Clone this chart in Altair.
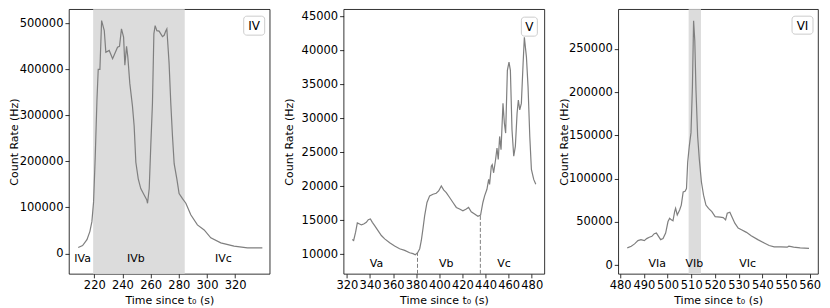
import altair as alt
import pandas as pd

FONT = "DejaVu Sans"
LINE = "#7f7f7f"
SHADE = "#dcdcdc"

# ---------------- Panel IV ----------------
t4 = [208.6, 211.7, 214.8, 216.9, 218.3, 219.5, 220.7, 221.9, 222.8, 224.0,
      225.2, 227.1, 228.2, 230.6, 233.0, 236.5, 237.9, 239.3, 240.8, 241.7,
      242.9, 243.8, 245.2, 247.1, 248.3, 249.5, 251.2, 253.0, 255.4, 257.3,
      257.8, 259.0, 260.1, 261.3, 262.3, 263.2, 264.4, 266.0, 267.2, 268.4,
      269.6, 270.8, 271.5, 273.1, 274.3, 275.5, 276.7, 278.6, 280.2, 282.6,
      285.0, 288.5, 293.2, 298.0, 302.7, 309.8, 319.2, 328.7, 339.3]
r4 = [13000, 17000, 30000, 48000, 69000, 112000, 212000, 334000, 400000, 400000,
      506000, 484000, 437000, 441000, 423000, 448000, 450000, 488000, 470000, 409000,
      450000, 427000, 370000, 320000, 277000, 198000, 162000, 141000, 127000, 116000,
      109000, 141000, 234000, 327000, 477000, 495000, 484000, 483000, 477000, 471000,
      474000, 484000, 488000, 413000, 327000, 255000, 195000, 162000, 130000, 119000,
      109000, 84000, 62000, 51000, 34000, 23000, 16000, 12000, 12000]
span4 = [(219.2, 284.2)]
sec4_names = ["IVa", "IVb", "IVc"]
sec4_t = [211.7, 249.5, 311.7]
sec4_y = -12000
x4_dom = [202.0, 344.5]
y4_dom = [-44400, 530700]
x4_ticks = [220, 240, 260, 280, 300, 320]
y4_ticks = [0, 100000, 200000, 300000, 400000, 500000]

# ---------------- Panel V ----------------
t5 = [324.6, 325.8, 327.5, 329.0, 331.0, 332.5, 334.5, 336.8, 338.5, 340.3,
      342.0, 344.0, 346.9, 349.8, 352.7, 357.0, 361.3, 365.6, 370.0, 374.3,
      377.2, 379.2, 381.2, 383.0, 384.4, 385.8, 387.3, 389.3, 391.6, 394.5,
      397.3, 399.4, 401.7, 403.7, 406.0, 408.9, 411.8, 414.7, 417.5, 420.4,
      423.3, 425.3, 427.6, 430.5, 433.4, 435.7, 437.7, 439.2, 441.2, 442.7,
      443.5, 445.0, 445.8, 447.0, 448.7, 449.9, 451.0, 452.2, 453.4, 455.1,
      456.3, 457.4, 458.9, 460.3, 461.5, 462.9, 464.4, 465.8, 467.3, 468.4,
      469.6, 471.0, 472.5, 473.6, 475.4, 476.8, 478.3, 479.7, 481.7, 483.5]
r5 = [12190, 12040, 13260, 14620, 14470, 14330, 14470, 14710, 15100, 15200,
      14710, 14230, 13500, 12770, 12280, 11700, 11220, 10830, 10580, 10240,
      10100, 9950, 10240, 10830, 12040, 13740, 15690, 17630, 18600, 18850,
      18990, 19330, 20060, 19480, 19090, 18360, 17630, 16900, 16660, 16420,
      16660, 16900, 16270, 15930, 15590, 15780, 17630, 18600, 19570, 21030,
      20300, 22980, 23200, 22000, 23950, 25650, 23950, 27350, 25400, 32210,
      29290, 27840, 37070, 38290, 37070, 28320, 24430, 25890, 30750, 32700,
      31240, 32210, 38040, 41930, 39010, 34640, 27350, 22490, 21030, 20300]
cuts5_t = [381.1, 435.5]
cuts5_r = [10240, 15780]
sec5_names = ["Va", "Vb", "Vc"]
sec5_t = [345.6, 406.0, 456.0]
sec5_y = 8600
x5_dom = [317.1, 490.9]
y5_dom = [7130, 46070]
x5_ticks = [320, 340, 360, 380, 400, 420, 440, 460, 480]
y5_ticks = [10000, 15000, 20000, 25000, 30000, 35000, 40000, 45000]

# ---------------- Panel VI ----------------
t6 = [483.0, 484.7, 486.1, 487.5, 488.8, 490.2, 491.2, 492.3, 493.4, 494.4,
      495.3, 496.2, 497.1, 498.1, 499.2, 500.2, 500.9, 501.6, 502.3, 503.0,
      503.4, 504.1, 505.1, 505.8, 506.6, 507.4, 508.0, 508.5, 509.2, 509.9,
      510.5, 511.0, 511.5, 512.0, 512.7, 513.4, 514.3, 515.2, 516.2, 517.3,
      518.7, 520.1, 522.2, 523.5, 524.5, 525.2, 526.3, 527.3, 528.4, 529.8,
      531.2, 533.3, 535.3, 538.1, 540.8, 542.9, 545.0, 547.8, 550.5, 551.2,
      553.2, 556.0, 559.7]
r6 = [20100, 22000, 24700, 28500, 29600, 28500, 30800, 32300, 33400, 36500,
      37200, 33400, 29600, 30800, 37200, 50500, 54300, 52400, 51300, 61900,
      65700, 58100, 63800, 69500, 84700, 85500, 88500, 118900, 137900, 153100,
      206300, 282300, 259500, 202500, 149300, 122700, 96100, 80900, 69500, 65700,
      61900, 56200, 55500, 55100, 52400, 60000, 61200, 55100, 48600, 42900,
      41000, 38000, 34200, 29600, 25800, 22800, 21300, 21300, 20900, 22000,
      20900, 20100, 19400]
span6 = [(508.9, 514.1)]
sec6_names = ["VIa", "VIb", "VIc"]
sec6_t = [495.7, 511.3, 533.8]
sec6_y = 1800
x6_dom = [479.2, 563.5]
y6_dom = [-9900, 295600]
x6_ticks = [480, 490, 500, 510, 520, 530, 540, 550, 560]
y6_ticks = [0, 50000, 100000, 150000, 200000, 250000]

panel_tags = ["IV", "V", "VI"]

PLOT_H = 265


def panel(t, r, xdom, ydom, xticks, yticks, sec_names, sec_t, sec_y,
          tag, box, width, spans=None, cuts=None):
    xs = alt.Scale(domain=xdom, nice=False, zero=False)
    ys = alt.Scale(domain=ydom, nice=False, zero=False)
    xax = alt.Axis(values=xticks, format="d", title="Time since t₀ (s)")
    yax = alt.Axis(values=yticks, format="d", title="Count Rate (Hz)")

    layers = []
    if spans:
        sdf = pd.DataFrame({"a": [s[0] for s in spans], "b": [s[1] for s in spans]})
        layers.append(
            alt.Chart(sdf).mark_rect(color=SHADE, opacity=1).encode(
                x=alt.X("a:Q", scale=xs, axis=xax), x2="b:Q"))
    ldf = pd.DataFrame({"t": t, "r": r})
    layers.append(
        alt.Chart(ldf).mark_line(color=LINE, strokeWidth=1.2).encode(
            x=alt.X("t:Q", scale=xs, axis=xax),
            y=alt.Y("r:Q", scale=ys, axis=yax)))
    if cuts:
        cdf = pd.DataFrame({"t": cuts[0], "r": cuts[1], "lo": [ydom[0]] * len(cuts[0])})
        layers.append(
            alt.Chart(cdf).mark_rule(color=LINE, strokeWidth=1, strokeDash=[4, 2]).encode(
                x=alt.X("t:Q", scale=xs, axis=xax),
                y=alt.Y("lo:Q", scale=ys, axis=yax), y2="r:Q"))
    tdf = pd.DataFrame({"t": sec_t, "y": [sec_y] * len(sec_t), "n": sec_names})
    layers.append(
        alt.Chart(tdf).mark_text(font=FONT, fontSize=11, color="black",
                                 align="center", baseline="middle").encode(
            x=alt.X("t:Q", scale=xs, axis=xax),
            y=alt.Y("y:Q", scale=ys, axis=yax), text="n:N"))
    bdf = pd.DataFrame({"n": [tag]})
    x0, x1, y0, y1 = box
    layers.append(
        alt.Chart(bdf).mark_rect(fill="white", stroke="#cccccc", strokeWidth=1,
                                 cornerRadius=3).encode(
            x=alt.value(x0), x2=alt.value(x1), y=alt.value(y0), y2=alt.value(y1)))
    layers.append(
        alt.Chart(bdf).mark_text(font=FONT, fontSize=12, color="black",
                                 align="center", baseline="middle").encode(
            x=alt.value((x0 + x1) / 2), y=alt.value((y0 + y1) / 2 + 0.5), text="n:N"))
    return alt.layer(*layers).properties(width=width, height=PLOT_H)


p4 = panel(t4, r4, x4_dom, y4_dom, x4_ticks, y4_ticks, sec4_names, sec4_t, sec4_y,
           panel_tags[0], (175, 196, 7, 26), 201, spans=span4)
p5 = panel(t5, r5, x5_dom, y5_dom, x5_ticks, y5_ticks, sec5_names, sec5_t, sec5_y,
           panel_tags[1], (178, 194, 8, 27), 201, cuts=(cuts5_t, cuts5_r))
p6 = panel(t6, r6, x6_dom, y6_dom, x6_ticks, y6_ticks, sec6_names, sec6_t, sec6_y,
           panel_tags[2], (174, 195, 7, 25), 200, spans=span6)

chart = alt.hconcat(p4, p5, p6, spacing=12).properties(padding=0).configure_view(
    stroke="black", strokeWidth=0.8
).configure_axis(
    grid=False, domain=False, tickColor="black", tickSize=4, tickWidth=0.8,
    labelFont=FONT, labelFontSize=11.5, labelColor="black", labelPadding=2,
    titleFont=FONT, titleFontSize=11, titleFontWeight="normal", titleColor="black",
).configure_axisY(minExtent=47, maxExtent=47, titlePadding=2).configure_axisX(
    titlePadding=3, labelFlush=False, labelOverlap=False)

chart.save("out.html", embed_options={"renderer": "svg", "actions": False})
